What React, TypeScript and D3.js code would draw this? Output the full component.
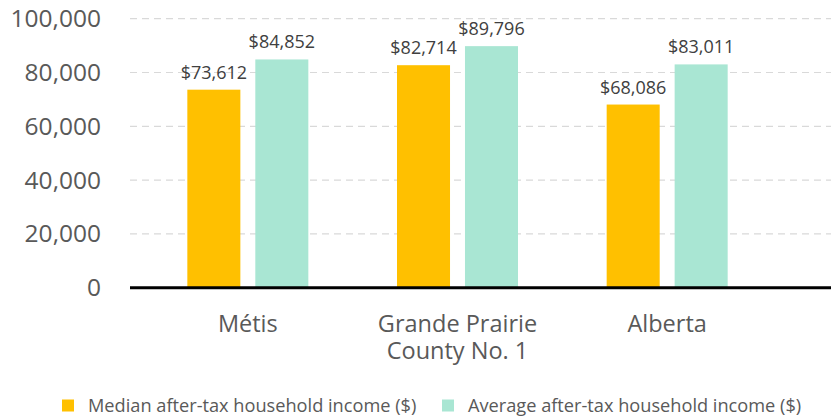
import React from "react";
import * as d3 from "d3";

const categories: string[][] = [["Métis"], ["Grande Prairie", "County No. 1"], ["Alberta"]];
const seriesNames = ["Median after-tax household income ($)", "Average after-tax household income ($)"];
const medianValues = [73612, 82714, 68086];
const averageValues = [84852, 89796, 83011];
const yTicks = [0, 20000, 40000, 60000, 80000, 100000];
const colors = ["#FFC000", "#A9E6D3"];

const W = 831;
const H = 419;
const FONT = "'Open Sans', 'DejaVu Sans', sans-serif";

export default function App() {
  const y = d3.scaleLinear().domain([0, 100000]).range([287.7, 18.7]);
  const catKeys = categories.map((c) => c.join(" "));
  const x = d3.scaleBand<string>().domain(catKeys).range([143, 772]).padding(0);
  const inner = d3.scaleBand<string>().domain(seriesNames).range([0, 121]).paddingInner(0.22);
  const groupOffset = (x.bandwidth() - 121) / 2;
  const fmtTick = d3.format(",");
  const fmtLabel = (v: number) => "$" + d3.format(",")(v);
  const seriesData = [medianValues, averageValues];
  const legendX = [62, 442];

  return (
    <svg width={W} height={H} style={{ position: "absolute", left: 0, top: 0, background: "#fff" }}>
      {yTicks.filter((t) => t > 0).map((t) => (
        <line key={t} x1={130} x2={W} y1={y(t)} y2={y(t)} stroke="#D9D9D9" strokeWidth={1.2} strokeDasharray="7,5" />
      ))}
      {yTicks.map((t) => (
        <text key={t} x={101} y={y(t)} dy="0.35em" textAnchor="end" fontFamily={FONT} fontSize={24.5} fill="#595959">
          {fmtTick(t)}
        </text>
      ))}
      {catKeys.map((k, ci) =>
        seriesData.map((vals, si) => {
          const bx = (x(k) as number) + groupOffset + (inner(seriesNames[si]) as number);
          const v = vals[ci];
          return (
            <g key={k + si}>
              <rect x={bx} y={y(v)} width={inner.bandwidth()} height={y(0) - y(v)} fill={colors[si]} />
              <text x={bx + inner.bandwidth() / 2} y={y(v) - 11} textAnchor="middle" fontFamily={FONT} fontSize={18} fill="#404040">
                {fmtLabel(v)}
              </text>
            </g>
          );
        })
      )}
      <line x1={130} x2={W} y1={y(0)} y2={y(0)} stroke="#000" strokeWidth={3} />
      {categories.map((lines, ci) => (
        <text key={ci} x={(x(catKeys[ci]) as number) + x.bandwidth() / 2} y={332} textAnchor="middle" fontFamily={FONT} fontSize={23.5} fill="#595959">
          {lines.map((l, li) => (
            <tspan key={li} x={(x(catKeys[ci]) as number) + x.bandwidth() / 2} dy={li === 0 ? 0 : 27}>
              {l}
            </tspan>
          ))}
        </text>
      ))}
      {seriesNames.map((s, si) => (
        <g key={s}>
          <rect x={legendX[si]} y={399.5} width={12} height={12} fill={colors[si]} />
          <text x={legendX[si] + 26} y={412} fontFamily={FONT} fontSize={18.2} fill="#595959">
            {s}
          </text>
        </g>
      ))}
    </svg>
  );
}
